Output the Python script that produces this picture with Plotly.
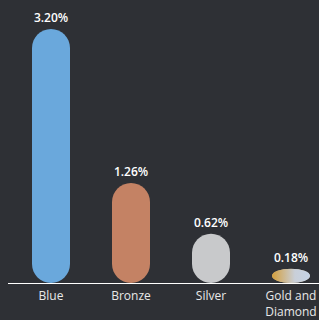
import base64
import plotly.graph_objects as go

categories = ["Blue", "Bronze", "Silver", "Gold and<br>Diamond"]
values = [3.20, 1.26, 0.62, 0.18]
labels = ["3.20%", "1.26%", "0.62%", "0.18%"]
colors = ["#6aa8dc", "#c48264", "#c8c9cb", "#cdb894"]
gradient_index = 3  # Gold and Diamond bar uses a gold -> pale blue gradient
gradient_stops = [(0.0, "#d49f3c"), (0.6, "#c9cfd8"), (1.0, "#c5d3e6")]

W, H = 319, 320
ML, MR, MT, MB = 8, 0, 0, 37
XR = [-0.5375, 3.35]
YR = [0, 3.564]
BAR_W = 0.475

px_per_x = (W - ML - MR) / (XR[1] - XR[0])
px_per_y = (H - MT - MB) / (YR[1] - YR[0])
r_y = (BAR_W * px_per_x / 2) / px_per_y  # half bar width expressed in y units
K = 0.5523  # bezier circle constant

fig = go.Figure()
# transparent bar trace carries the data and the value labels
fig.add_trace(go.Bar(
    x=list(range(len(categories))), y=values, width=BAR_W,
    marker=dict(color="rgba(0,0,0,0)", line=dict(width=0)),
    text=labels, textposition="outside", cliponaxis=False,
    textfont=dict(family="Open Sans", size=12, color="#ffffff", weight=600),
    hoverinfo="skip", showlegend=False,
))

# pill-shaped bars drawn on the data axes
for i, (v, c) in enumerate(zip(values, colors)):
    a = BAR_W / 2
    b = min(r_y, v / 2)
    xl, xr = i - a, i + a
    path = (
        f"M {xl},{b} L {xl},{v - b} "
        f"C {xl},{v - b + K * b} {i - K * a},{v} {i},{v} "
        f"C {i + K * a},{v} {xr},{v - b + K * b} {xr},{v - b} "
        f"L {xr},{b} "
        f"C {xr},{b - K * b} {i + K * a},0 {i},0 "
        f"C {i - K * a},0 {xl},{b - K * b} {xl},{b} Z"
    )
    fig.add_shape(type="path", path=path, xref="x", yref="y",
                  fillcolor=c, line=dict(width=0), layer="below")

# gradient overlay for the Gold and Diamond bar
stops = "".join(f"<stop offset='{o}' stop-color='{col}'/>" for o, col in gradient_stops)
svg_txt = ("<svg xmlns='http://www.w3.org/2000/svg' width='200' height='60' viewBox='0 0 200 60' "
           "preserveAspectRatio='none'><defs><linearGradient id='g' x1='0' x2='1' y1='0' y2='0'>"
           + stops + "</linearGradient></defs>"
           "<ellipse cx='100' cy='30' rx='100' ry='30' fill='url(#g)'/></svg>")
svg = "data:image/svg+xml;base64," + base64.b64encode(svg_txt.encode()).decode()
gi = gradient_index
fig.add_layout_image(dict(
    source=svg, xref="x", yref="y", x=gi - BAR_W / 2, y=values[gi],
    sizex=BAR_W, sizey=values[gi], sizing="stretch",
    xanchor="left", yanchor="top", layer="above",
))

fig.update_layout(
    width=W, height=H, margin=dict(l=ML, r=MR, t=MT, b=MB),
    paper_bgcolor="#2e3035", plot_bgcolor="#2e3035",
    font=dict(family="Open Sans", size=12, color="#e8e8e8"),
    xaxis=dict(range=XR, tickmode="array", tickvals=list(range(len(categories))),
               ticktext=categories, showline=True, linecolor="#ffffff", linewidth=1,
               showgrid=False, zeroline=False, ticks="", fixedrange=True,
               ticklabelstandoff=2,
               tickfont=dict(family="Open Sans", size=12, color="#e8e8e8")),
    yaxis=dict(range=YR, showgrid=False, zeroline=False, showticklabels=False,
               showline=False, fixedrange=True),
)

fig.write_html("out.html", config={"displayModeBar": False},
               post_script="document.body.style.margin='0';")
